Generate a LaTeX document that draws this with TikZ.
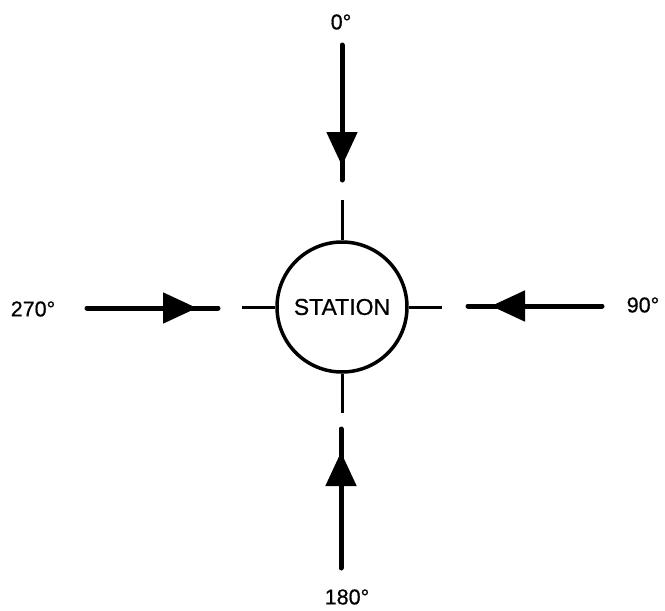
\documentclass[tikz,border=0pt]{standalone}
\usepackage{fontspec}
\setmainfont[FakeBold=0.6]{Liberation Sans}
\usetikzlibrary{arrows.meta}
\begin{document}
\begin{tikzpicture}[x=1pt,y=-1pt,
  shaft/.style={line width=5pt, line cap=round},
  headed/.style={line width=5pt, -{Triangle[length=34pt,width=30pt]}},
  tick/.style={line width=3pt},
  lbl/.style={font=\fontsize{21.5}{26}\selectfont, inner sep=0pt}]
\useasboundingbox (0,0) rectangle (665,611);

% central station
\node[circle, draw, line width=3.5pt, minimum size=130pt, inner sep=0pt,
      font=\fontsize{23}{28}\selectfont] (station) at (342,307) {STATION};

% short leads from the station
\coordinate (nt) at (342,200);
\coordinate (st) at (342,413);
\coordinate (wt) at (242,307);
\coordinate (et) at (442,307);
\draw[tick] (station.north) -- (nt);
\draw[tick] (station.south) -- (st);
\draw[tick] (station.west) -- (wt);
\draw[tick] (station.east) -- (et);

% 0 degrees, from above
\coordinate (n0) at (342,45);
\coordinate (n1) at (342,180);
\coordinate (nh) at (342,166);
\draw[shaft] (n0) -- (n1);
\draw[headed] (n0) -- (nh);
\node[lbl] (l0) at (341,22) {0°};

% 180 degrees, from below
\coordinate (s0) at (341,568);
\coordinate (s1) at (341,429);
\coordinate (sh) at (341,452);
\draw[shaft] (s0) -- (s1);
\draw[headed] (s0) -- (sh);
\node[lbl] (l180) at (347,597) {180°};

% 270 degrees, from the left
\coordinate (w0) at (87,308);
\coordinate (w1) at (218,308);
\coordinate (wh) at (197,308);
\draw[shaft] (w0) -- (w1);
\draw[headed] (w0) -- (wh);
\node[lbl] (l270) at (33,309) {270°};

% 90 degrees, from the right
\coordinate (e0) at (602,306);
\coordinate (e1) at (468,306);
\coordinate (eh) at (491,306);
\draw[shaft] (e0) -- (e1);
\draw[headed] (e0) -- (eh);
\node[lbl] (l90) at (643,305) {90°};
\end{tikzpicture}
\end{document}
